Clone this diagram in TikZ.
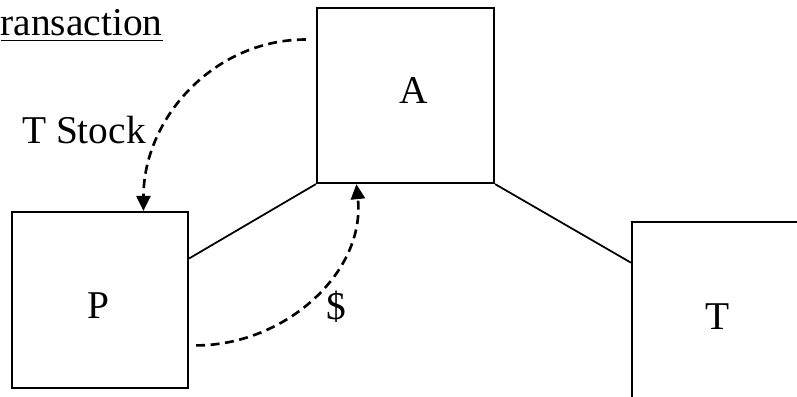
\documentclass[tikz,border=0pt]{standalone}
\usepackage{fontspec}
\setmainfont{Liberation Serif}
\usetikzlibrary{arrows.meta}

\begin{document}
\begin{tikzpicture}[
    x=0.01cm, y=-0.01cm,
    party/.style={rectangle, draw=black, line width=0.6pt, minimum width=1.76cm, minimum height=1.76cm, inner sep=0pt, font=\fontsize{11.2}{13}\selectfont},
    link/.style={line width=0.5pt},
    flow/.style={-{Triangle[length=0.15cm, width=0.14cm]}, line width=0.75pt, dash pattern=on 0.09cm off 0.055cm},
    lbl/.style={inner sep=0pt, font=\fontsize{11.2}{13}\selectfont}
]
    \useasboundingbox (0,0) rectangle (797,396);
    \clip (0,0) rectangle (797,396);

    \node[party, minimum width=1.77cm, minimum height=1.75cm] (a) at (405.5,95.5) {};
    \node[lbl] (alabel) at (414,90) {A};
    \node[party] (p) at (100,300) {};
    \node[lbl] (plabel) at (98,306) {P};
    \node[party] (t) at (720,310) {};
    \node[lbl] (tlabel) at (718,317) {T};

    \node[lbl, anchor=base west] (title) at (0,35) {\underline{ransaction}};
    \node[lbl] (stock) at (84,130) {T Stock};
    \node[lbl] (dollar) at (336,307) {\$};

    % relationships
    \draw[link] (p.25) -- (a.south west);
    \draw[link] (a.south east) -- (t.152);

    % exchanges
    \draw[flow] ([xshift=-0.1cm]a.148) to[out=180, in=90] (p.64);
    \draw[flow] ([xshift=0.07cm]p.-27) to[out=0, in=-84] (a.241);
\end{tikzpicture}
\end{document}
